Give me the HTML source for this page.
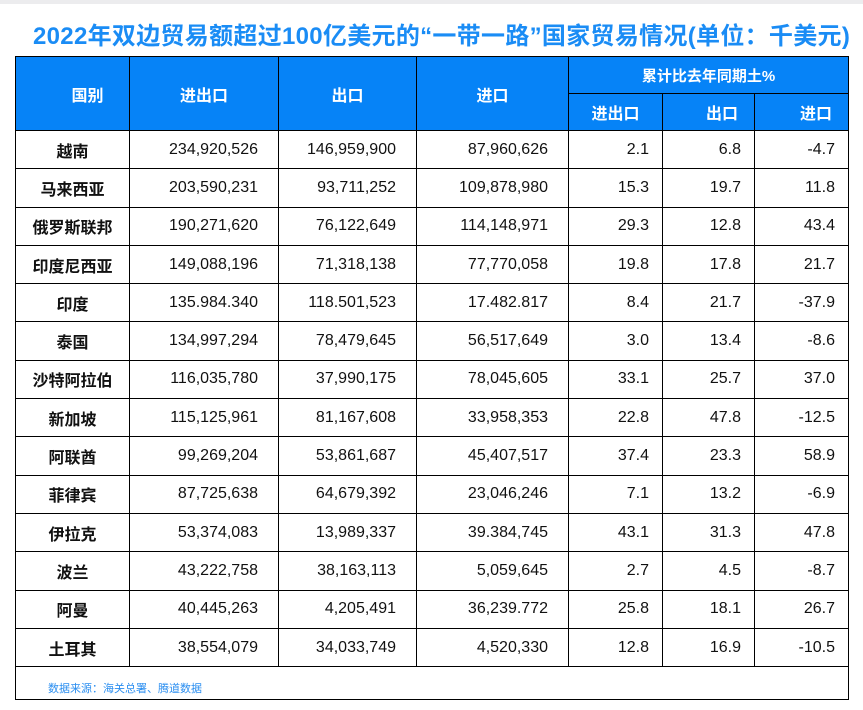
<!DOCTYPE html>
<html><head><meta charset="utf-8"><style>
body{margin:0;width:863px;height:710px;background:#fff;position:relative;overflow:hidden;font-family:"Liberation Sans","Noto Sans CJK SC",sans-serif;}
.top{position:absolute;left:0;top:0;width:863px;height:4px;background:#ececee;}
h1{position:absolute;left:33px;width:830px;top:16px;margin:0;text-align:left;font-size:24px;font-weight:bold;color:#1a8cf5;white-space:nowrap;letter-spacing:0.3px}
table{position:absolute;left:15px;top:56px;border-collapse:collapse;table-layout:fixed;}
td,th{border:1.5px solid #000;padding:0;font-size:15px;}
th{background:#0683f7;color:#fff;font-weight:bold;font-size:16px;}
td{height:37.3px;text-align:right;color:#111;font-size:16px;}
td.c{text-align:center;font-weight:bold;}
td.n{padding-right:20px}
td.p{padding-right:13px}
td.foot{height:29px;text-align:left;vertical-align:bottom;font-size:11px;color:#2a8ef0;padding:0 0 3px 32px;}
</style></head><body>
<div class="top"></div>
<h1>2022年双边贸易额超过100亿美元的“一带一路”国家贸易情况(单位：千美元)</h1>
<table>
<colgroup><col style="width:114px"><col style="width:149px"><col style="width:138px"><col style="width:152px"><col style="width:94px"><col style="width:92px"><col style="width:94px"></colgroup>
<tr style="height:37px"><th rowspan="2" style="padding-left:30px">国别</th><th rowspan="2">进出口</th><th rowspan="2">出口</th><th rowspan="2">进口</th><th colspan="3" style="font-size:15px">累计比去年同期土%</th></tr>
<tr style="height:37px"><th>进出口</th><th style="text-align:right;padding-right:16px">出口</th><th style="text-align:right;padding-right:16px">进口</th></tr>
<tr><td class="c">越南</td><td class="n">234,920,526</td><td class="n">146,959,900</td><td class="n">87,960,626</td><td class="p">2.1</td><td class="p">6.8</td><td class="p">-4.7</td></tr>
<tr><td class="c">马来西亚</td><td class="n">203,590,231</td><td class="n">93,711,252</td><td class="n">109,878,980</td><td class="p">15.3</td><td class="p">19.7</td><td class="p">11.8</td></tr>
<tr><td class="c">俄罗斯联邦</td><td class="n">190,271,620</td><td class="n">76,122,649</td><td class="n">114,148,971</td><td class="p">29.3</td><td class="p">12.8</td><td class="p">43.4</td></tr>
<tr><td class="c">印度尼西亚</td><td class="n">149,088,196</td><td class="n">71,318,138</td><td class="n">77,770,058</td><td class="p">19.8</td><td class="p">17.8</td><td class="p">21.7</td></tr>
<tr><td class="c">印度</td><td class="n">135.984.340</td><td class="n">118.501,523</td><td class="n">17.482.817</td><td class="p">8.4</td><td class="p">21.7</td><td class="p">-37.9</td></tr>
<tr><td class="c">泰国</td><td class="n">134,997,294</td><td class="n">78,479,645</td><td class="n">56,517,649</td><td class="p">3.0</td><td class="p">13.4</td><td class="p">-8.6</td></tr>
<tr><td class="c">沙特阿拉伯</td><td class="n">116,035,780</td><td class="n">37,990,175</td><td class="n">78,045,605</td><td class="p">33.1</td><td class="p">25.7</td><td class="p">37.0</td></tr>
<tr><td class="c">新加坡</td><td class="n">115,125,961</td><td class="n">81,167,608</td><td class="n">33,958,353</td><td class="p">22.8</td><td class="p">47.8</td><td class="p">-12.5</td></tr>
<tr><td class="c">阿联酋</td><td class="n">99,269,204</td><td class="n">53,861,687</td><td class="n">45,407,517</td><td class="p">37.4</td><td class="p">23.3</td><td class="p">58.9</td></tr>
<tr><td class="c">菲律宾</td><td class="n">87,725,638</td><td class="n">64,679,392</td><td class="n">23,046,246</td><td class="p">7.1</td><td class="p">13.2</td><td class="p">-6.9</td></tr>
<tr><td class="c">伊拉克</td><td class="n">53,374,083</td><td class="n">13,989,337</td><td class="n">39.384,745</td><td class="p">43.1</td><td class="p">31.3</td><td class="p">47.8</td></tr>
<tr><td class="c">波兰</td><td class="n">43,222,758</td><td class="n">38,163,113</td><td class="n">5,059,645</td><td class="p">2.7</td><td class="p">4.5</td><td class="p">-8.7</td></tr>
<tr><td class="c">阿曼</td><td class="n">40,445,263</td><td class="n">4,205,491</td><td class="n">36,239.772</td><td class="p">25.8</td><td class="p">18.1</td><td class="p">26.7</td></tr>
<tr><td class="c">土耳其</td><td class="n">38,554,079</td><td class="n">34,033,749</td><td class="n">4,520,330</td><td class="p">12.8</td><td class="p">16.9</td><td class="p">-10.5</td></tr>
<tr><td colspan="7" class="foot">数据来源：海关总署、腾道数据</td></tr>
</table>
</body></html>
